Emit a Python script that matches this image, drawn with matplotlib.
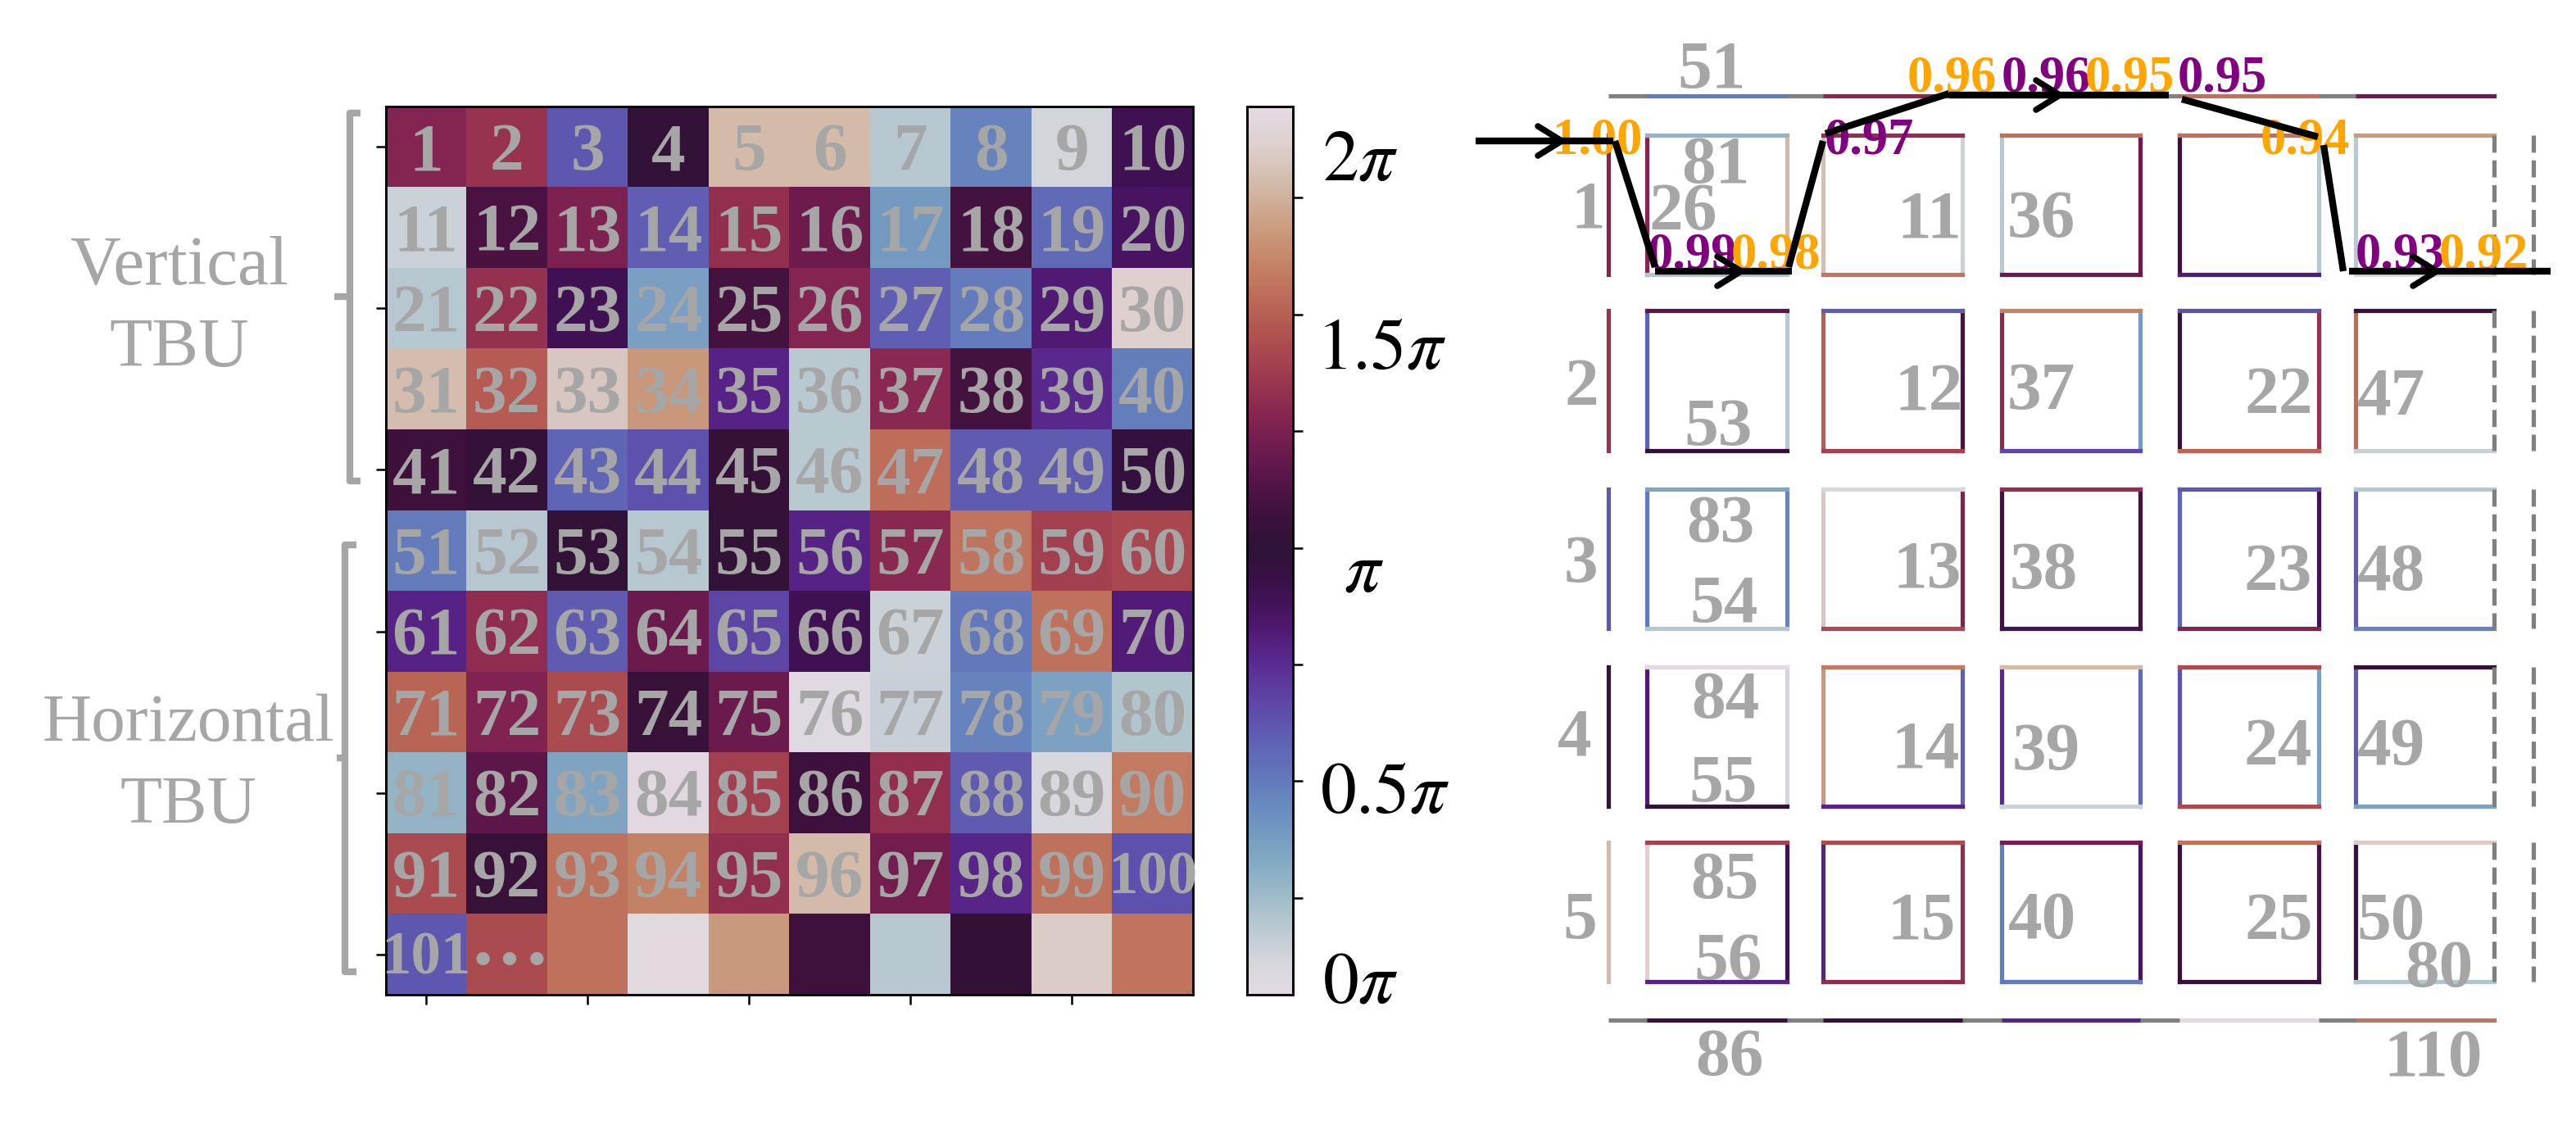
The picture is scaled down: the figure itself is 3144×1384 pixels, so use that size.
import numpy as np
from matplotlib import pyplot as plt

plt.rcParams['font.family'] = ['Liberation Serif', 'DejaVu Serif']
plt.rcParams['mathtext.fontset'] = 'stix'

# Phase of each cell, as a fraction of the colorbar range (row by row)
phases = [
    0.65, 0.685, 0.30, 0.51, 0.915, 0.915, 0.08, 0.225, 0.04, 0.45,
    0.05, 0.56, 0.64, 0.29, 0.675, 0.615, 0.18, 0.55, 0.27, 0.43,
    0.08, 0.68, 0.45, 0.17, 0.55, 0.65, 0.29, 0.24, 0.41, 0.96,
    0.92, 0.76, 0.94, 0.855, 0.39, 0.075, 0.66, 0.55, 0.38, 0.235,
    0.54, 0.51, 0.28, 0.31, 0.52, 0.075, 0.79, 0.295, 0.295, 0.48,
    0.24, 0.08, 0.51, 0.08, 0.51, 0.39, 0.66, 0.80, 0.71, 0.725,
    0.39, 0.67, 0.295, 0.61, 0.33, 0.45, 0.05, 0.245, 0.795, 0.405,
    0.775, 0.645, 0.73, 0.525, 0.61, 0.01, 0.055, 0.225, 0.165, 0.085,
    0.125, 0.59, 0.16, 0.00, 0.71, 0.54, 0.675, 0.295, 0.03, 0.81,
    0.73, 0.525, 0.795, 0.82, 0.675, 0.915, 0.625, 0.385, 0.795, 0.31,
    0.30, 0.73, 0.795, 0.995, 0.86, 0.54, 0.08, 0.515, 0.95, 0.80,
]
cbar_ticks = [0.109, 0.241, 0.372, 0.503, 0.635, 0.766, 0.898]
cbar_labels = ['$2\\pi$', '$1.5\\pi$', '$\\pi$', '$0.5\\pi$', '$0\\pi$']
cbar_label_pos = [(1660, 190), (1686, 420), (1664, 692), (1690, 962), (1660, 1194)]

# Mesh: phase number drawn on each edge, per column / row
top_outer = [51, 57, 63, 69, 75]
bottom_outer = [86, 92, 98, 104, 110]
row_tops = [[81, 82, 83, 84, 85], [87, 88, 89, 90, 91], [93, 94, 95, 96, 97],
            [99, 100, 101, 102, 103], [105, 106, 107, 108, 109]]
row_bottoms = [[52, 53, 54, 55, 56], [58, 59, 60, 61, 62], [64, 65, 66, 67, 68],
               [70, 71, 72, 73, 74], [76, 77, 78, 79, 80]]
col_lefts = [[26, 27, 28, 29, 30], [31, 32, 33, 34, 35], [36, 37, 38, 39, 40],
             [41, 42, 43, 44, 45], [46, 47, 48, 49, 50]]
col_rights = [[6, 7, 8, 9, 10], [11, 12, 13, 14, 15], [16, 17, 18, 19, 20],
              [21, 22, 23, 24, 25]]
outer_left = [1, 2, 3, 4, 5]

# Numbers written on the mesh
mesh_labels = ['51', '81', '26', '1', '11', '2', '53', '12', '36', '37', '22', '47',
               '3', '83', '54', '13', '38', '23', '48', '4', '84', '55', '14', '39',
               '24', '49', '5', '85', '56', '15', '40', '25', '50', '80', '86', '110']
mesh_label_pos = [(2089, 79), (2094, 195), (2054, 252), (1938, 249), (2355, 261),
                  (1930, 466), (2097, 515), (2354, 472), (2491, 261), (2491, 471),
                  (2781, 476), (2918, 477), (1929, 682), (2100, 633), (2104, 731),
                  (2352, 689), (2494, 690), (2780, 692), (2918, 692), (1922, 893),
                  (2106, 848), (2103, 950), (2350, 908), (2497, 911), (2780, 905),
                  (2918, 905), (1928, 1117), (2105, 1068), (2109, 1167), (2345, 1118),
                  (2493, 1117), (2781, 1118), (2918, 1118), (2977, 1176), (2111, 1284),
                  (2970, 1285)]

# Transmission along the black path
trans_values = ['1.00', '0.99', '0.98', '0.97', '0.96', '0.96', '0.95', '0.95', '0.94', '0.93', '0.92']
trans_colors = ['orange', 'purple', 'orange', 'purple', 'orange', 'purple', 'orange', 'purple',
                'orange', 'purple', 'orange']
trans_pos = [(1950, 166), (2065, 306), (2167, 306), (2281, 166), (2382, 90), (2497, 90),
             (2599, 90), (2712, 90), (2813, 166), (2929, 306), (3031, 306)]

path_segments = [[(1801, 172), (1969, 172)], [(1971, 172), (2020, 326)], [(2020, 331), (2187, 331)],
                 [(2183, 326), (2225, 172)], [(2228, 163), (2379, 114)], [(2379, 116), (2647, 116)],
                 [(2663, 121), (2829, 167)], [(2836, 177), (2860, 331)], [(2867, 331), (3113, 331)]]
arrow_tips = [(1906, 172), (2125, 331), (2514, 116), (2974, 331)]

W, H = 3144, 1384
DPI = 300
GRAY = '#a6a6a6'
cmap = plt.get_cmap('twilight')

fig = plt.figure(figsize=(W / DPI, H / DPI), dpi=DPI)


def px_axes(x0, y0, x1, y1):
    # axes from pixel box measured from the top left
    return fig.add_axes([x0 / W, 1 - y1 / H, (x1 - x0) / W, (y1 - y0) / H])


# Heatmap
ax = px_axes(471, 130, 1456, 1214)
grid = np.array(phases).reshape(11, 10)
im = ax.imshow(grid, cmap=cmap, vmin=0, vmax=1, aspect='auto')
ax.set_xticks(range(0, 10, 2))
ax.set_yticks(range(0, 11, 2))
ax.set_xticklabels([])
ax.set_yticklabels([])
ax.tick_params(length=2.9, width=0.6)
for spine in ax.spines.values():
    spine.set_linewidth(0.7)

# Colorbar
cax = px_axes(1522, 130, 1578, 1214)
cbar = fig.colorbar(im, cax=cax, ticks=cbar_ticks)
cbar.ax.set_yticklabels([])
cbar.ax.tick_params(length=2.9, width=0.6)
cbar.outline.set_linewidth(0.7)

# Overlay in pixel coordinates for the mesh and all the text
ov = fig.add_axes([0, 0, 1, 1], zorder=5)
ov.set_xlim(0, W)
ov.set_ylim(H, 0)
ov.axis('off')
ov.patch.set_alpha(0)


def put(x, y, s, size=20, color=GRAY, weight='bold', zorder=6):
    # centre on the digit height, not on the font box
    ov.text(x, y + 0.338 * size * DPI / 72, s, fontsize=size, color=color, fontweight=weight,
            ha='center', va='baseline', zorder=zorder)


# Numbers in the heatmap
for i in range(len(phases)):
    r, c = divmod(i, 10)
    x = 471 + (c + 0.5) * 98.5
    y = 130 + (r + 0.5) * 98.5
    if i == 101:
        put(x + 4, y + 5, '\u00b7\u00b7\u00b7', size=24)
    elif i > 101:
        continue
    else:
        put(x, y, str(i + 1), size=17.5 if i >= 99 else 20)

# Mesh
xl = [2010, 2225, 2443, 2660, 2875]
xr = [2181, 2395, 2612, 2830, 3044]
yt = [165, 379, 597, 814, 1028]
yb = [335, 550, 767, 984, 1198]
x_out, x_end = 1963, 3092
y_top, y_bot = 117, 1245
LW = 1.25


def phase_color(n):
    return cmap(phases[n - 1])


def edge(x0, y0, x1, y1, color):
    ov.plot([x0, x1], [y0, y1], color=color, lw=LW, solid_capstyle='projecting', zorder=2)


for c in range(5):
    for r in range(5):
        edge(xl[c], yt[r], xl[c], yb[r], phase_color(col_lefts[c][r]))
        if c < 4:
            edge(xr[c], yt[r], xr[c], yb[r], phase_color(col_rights[c][r]))
        else:
            ov.plot([xr[c], xr[c]], [yt[r], yb[r]], color='gray', lw=LW, ls=(0, (4, 1.8)), zorder=3)
        edge(xl[c], yt[r], xr[c], yt[r], phase_color(row_tops[c][r]))
        edge(xl[c], yb[r], xr[c], yb[r], phase_color(row_bottoms[c][r]))
    edge(xl[c], y_top, xr[c], y_top, phase_color(top_outer[c]))
    edge(xl[c], y_bot, xr[c], y_bot, phase_color(bottom_outer[c]))
    gap_start = x_out if c == 0 else xr[c - 1]
    for y in (y_top, y_bot):
        ov.plot([gap_start, xl[c]], [y, y], color='gray', lw=LW, solid_capstyle='butt', zorder=2)

for r in range(5):
    edge(x_out, yt[r], x_out, yb[r], phase_color(outer_left[r]))
    ov.plot([x_end, x_end], [yt[r], yb[r]], color='gray', lw=LW, ls=(0, (4, 1.8)), zorder=3)

for s, (x, y) in zip(mesh_labels, mesh_label_pos):
    put(x, y, s, size=20)

for s, col, (x, y) in zip(trans_values, trans_colors, trans_pos):
    put(x, y, s, size=15, color=col)

# Black path with the arrow heads
for seg in path_segments:
    xs, ys = zip(*seg)
    ov.plot(xs, ys, color='black', lw=2.0, solid_capstyle='butt', zorder=8)
for tx, ty in arrow_tips:
    ov.plot([tx - 29, tx, tx - 29], [ty - 18, ty, ty + 18], color='black', lw=1.8,
            solid_capstyle='round', solid_joinstyle='miter', zorder=8)

# Brackets
for xv, xhook, xnotch, y0, ymid, y1 in [(427, 440, 408, 138, 362, 587), (421, 435, 411, 665, 925, 1186)]:
    ov.plot([xhook, xv, xv, xhook], [y0, y0, y1, y1], color=GRAY, lw=2.0,
            solid_joinstyle='round', solid_capstyle='butt')
    ov.plot([xnotch, xv], [ymid, ymid], color=GRAY, lw=2.0, solid_capstyle='butt')

put(219, 318, 'Vertical', size=20.5, weight='normal')
put(219, 418, 'TBU', size=20.5, weight='normal')
put(230, 876, 'Horizontal', weight='normal')
put(230, 976, 'TBU', weight='normal')

for s, (x, y) in zip(cbar_labels, cbar_label_pos):
    put(x, y, s, size=21, color='black', weight='normal')

fig.savefig('out.png', dpi=DPI)
